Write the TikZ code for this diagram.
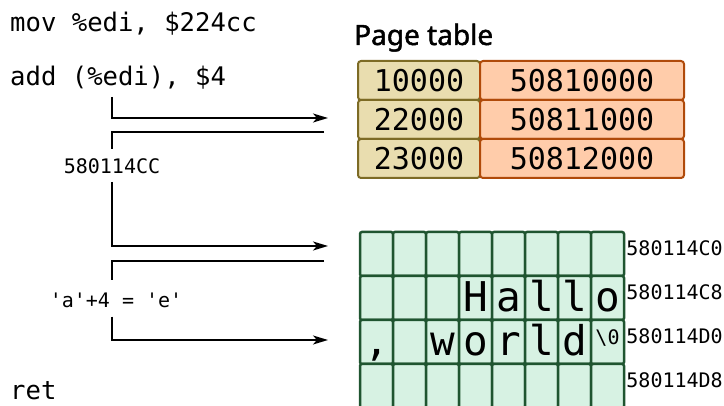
\documentclass[tikz,border=0pt]{standalone}
\usepackage{fontspec}
\setmonofont{DejaVu Sans Mono}
\newfontfamily\headfont[FakeBold=1.6]{Noto Sans}
\usetikzlibrary{arrows.meta,positioning,calc}
\definecolor{keyfill}{HTML}{E9DDAF}
\definecolor{keydraw}{HTML}{7D6B25}
\definecolor{valfill}{HTML}{FFCCAA}
\definecolor{valdraw}{HTML}{B04A0A}
\definecolor{cellfill}{HTML}{D7F2E3}
\definecolor{celldraw}{HTML}{1F5530}

\begin{document}
\begin{tikzpicture}[x=1pt, y=-1pt,
    code/.style={font=\fontsize{25.6}{30}\selectfont\ttfamily, anchor=base west, inner sep=0pt},
    label/.style={font=\fontsize{20}{24}\selectfont\ttfamily, inner sep=0pt},
    ptkey/.style={rectangle, draw=keydraw, fill=keyfill, line width=2pt, rounded corners=3pt,
        minimum width=122pt, minimum height=39pt, font=\fontsize{30}{36}\selectfont\ttfamily, inner sep=0pt},
    ptval/.style={ptkey, draw=valdraw, fill=valfill, minimum width=204pt},
    cell/.style={rectangle, draw=celldraw, fill=cellfill, line width=2.5pt, rounded corners=2pt,
        minimum width=33pt, minimum height=44pt, inner sep=0pt},
    glyph/.style={font=\fontsize{41}{48}\selectfont\ttfamily, anchor=base, inner sep=0pt},
    flow/.style={line width=1.6pt},
    tip/.style={flow, -{Stealth[length=15pt, width=9pt, inset=4pt]}}
]
\useasboundingbox (0,0) rectangle (724,406);

% Code
\node[code] (mov) at (10,32) {mov \%edi, \$224cc};
\node[code] (add) at (10,86) {add (\%edi), \$4};
\node[code] (ret) at (10,400) {ret};

% Page table
\node[font=\fontsize{28}{32}\selectfont\headfont, anchor=base west, inner sep=0pt]
    (pthead) at (354,45) {Page table};
\foreach \k/\v [count=\i from 0] in {10000/50810000, 22000/50811000, 23000/50812000} {
    \node[ptkey] (key\i) at (419,{80.5+39*\i}) {\k};
    \node[ptval] (val\i) at (582,{80.5+39*\i}) {\v};
}

% Memory
\foreach \r in {0,...,3}
    \foreach \c in {0,...,7}
        \node[cell] (m\r\c) at ({376.5+33*\c},{254+44*\r}) {};
\foreach \r/\a in {0/C0, 1/C8, 2/D0, 3/D8}
    \node[label, anchor=west] (addr\r) at ($(m\r7.east)+(1,-6)$) {580114\a};

\foreach \ch/\c in {H/3, a/4, l/5, l/6, o/7}
    \node[glyph] at ($(m1\c.north)+(0,37)$) {\ch};
\foreach \ch/\c in {{,}/0, w/2, o/3, r/4, l/5, d/6}
    \node[glyph] at ($(m2\c.north)+(0,37)$) {\ch};
\node[label] (nul) at ($(m27.center)+(0,-4)$) {\textbackslash 0};

% Flow
\coordinate (s1) at (112,97);
\coordinate (t1) at (328,118);
\coordinate (r1) at (324,132);
\node[label] (phys) at (112,166) {580114CC};
\coordinate (t2) at (328,246);
\coordinate (r2) at (324,261);
\node[label] (calc) at (116,300) {'a'+4 = 'e'};
\coordinate (t3) at (328,340);

\draw[tip] (s1) |- (t1);
\draw[flow] (r1) -| ($(phys.north)+(0,-9)$);
\draw[tip] ($(phys.south)+(0,8)$) |- (t2);
\draw[flow] (r2) -| ($(calc.north)+(-4,-12)$);
\draw[tip] ($(calc.south)+(-4,9)$) |- (t3);
\end{tikzpicture}
\end{document}
